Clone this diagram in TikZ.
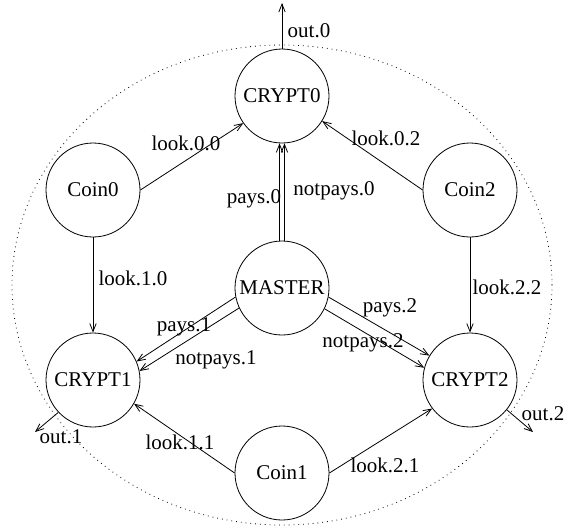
\documentclass[tikz,border=0pt]{standalone}
\usepackage{fontspec}
\setmainfont{Liberation Serif}
\usetikzlibrary{arrows.meta}
\begin{document}
\begin{tikzpicture}[x=0.5pt,y=-0.5pt,
    state/.style={draw,circle,minimum size=47pt,inner sep=0pt},
    lbl/.style={inner sep=0pt},
    >={Straight Barb[length=4pt,width=3.2pt]},
    font=\fontsize{10.5}{12}\selectfont]
  \useasboundingbox (0,0) rectangle (564,527);
  \draw[dotted] (282,285) ellipse [x radius=135pt, y radius=120pt];
  \draw
    (282,96) node[state] (crypt0){CRYPT0}
    (93,190) node[state] (coin0){Coin0}
    (470,190) node[state] (coin2){Coin2}
    (282,288) node[state] (master){MASTER}
    (93,380) node[state] (crypt1){CRYPT1}
    (470,380) node[state] (crypt2){CRYPT2}
    (282,473) node[state] (coin1){Coin1};
  \path
    (282,3) coordinate (out0)
    (35,432) coordinate (out1)
    (533,432) coordinate (out2);
  \path[lbl]
    (186,143) node[lbl] (l00){look.0.0}
    (386,138) node[lbl] (l02){look.0.2}
    (254,199) node[lbl] (p0){pays.0}
    (334,191) node[lbl] (np0){notpays.0}
    (133,278) node[lbl] (l10){look.1.0}
    (507,287) node[lbl] (l22){look.2.2}
    (184,327) node[lbl] (p1){pays.1}
    (216,360) node[lbl] (np1){notpays.1}
    (390,308) node[lbl] (p2){pays.2}
    (363,343) node[lbl] (np2){notpays.2}
    (180,442) node[lbl] (l11){look.1.1}
    (385,465) node[lbl] (l21){look.2.1}
    (309,31) node[lbl] (o0){out.0}
    (61,437) node[lbl] (o1){out.1}
    (543,414) node[lbl] (o2){out.2};
  \begin{scope}[->]
    \draw (coin0.0) to (crypt0.215);
    \draw (coin2.180) to (crypt0.328);
    \draw (coin0) to (crypt1);
    \draw (coin2) to (crypt2);
    \draw (coin1.180) to (crypt1.330);
    \draw (coin1.0) to (crypt2.217);
    \draw (master.93) to (crypt0.267);
    \draw (master.87) to (crypt0.273);
    \draw (master.191) to (crypt1.23);
    \draw (master.205) to (crypt1.11);
    \draw (master.349) to (crypt2.149);
    \draw (master.334) to (crypt2.165);
    \draw (crypt0) to (out0);
    \draw (crypt1.223) to (out1);
    \draw (crypt2.321) to (out2);
  \end{scope}
\end{tikzpicture}
\end{document}
